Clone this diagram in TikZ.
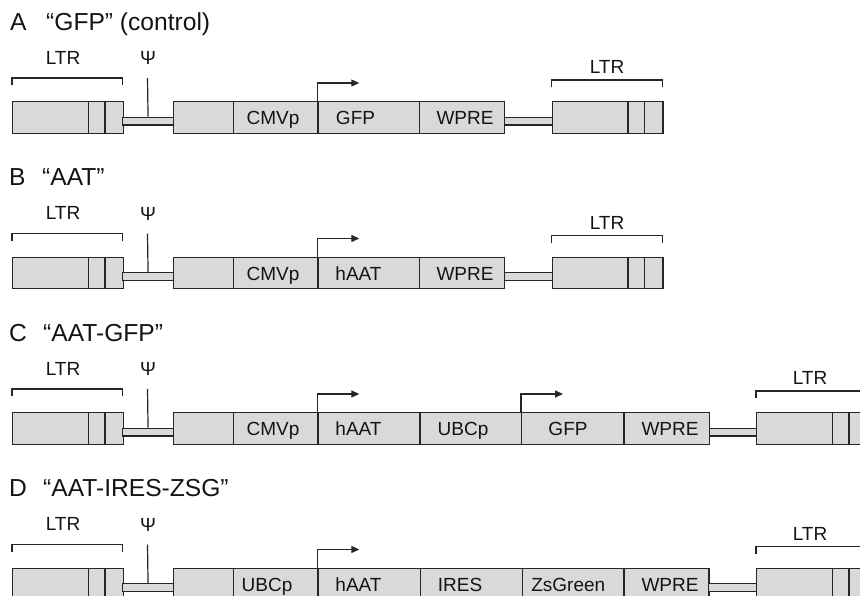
\documentclass[tikz,border=0pt]{standalone}
\usepackage{fontspec}
\setmainfont{Liberation Sans}
\usetikzlibrary{arrows.meta}
\definecolor{boxfill}{HTML}{D9D9D9}
\definecolor{edge}{HTML}{262626}
\definecolor{ink}{HTML}{141414}
\tikzset{
  segbox/.style={draw=edge, fill=boxfill, line width=1.25pt, inner sep=0pt, minimum height=31.5pt, anchor=north west},
  stripbox/.style={draw=edge, fill=boxfill, line width=1.1pt, inner sep=0pt, minimum height=7.8pt, anchor=north west},
  lbl/.style={inner sep=0pt, anchor=base, text=ink, font=\fontsize{19}{22}\selectfont},
  ttl/.style={inner sep=0pt, anchor=base west, text=ink, font=\fontsize{24.6}{28}\selectfont},
  conn/.style={draw=edge, line width=1.2pt},
  prom/.style={conn, -{Triangle[length=8pt,width=7pt]}},
}
% name, x1, x2, label x, text
\newcommand\vecseg[5]{%
  \node[segbox, minimum width={#3-#2}] (#1) at (#2,0) {};
  \node[lbl] (#1t) at (#4,23.5) {#5};}
% name, x1, x2
\newcommand\vecstrip[3]{%
  \node[stripbox, minimum width={#3-#2}] (#1) at (#2,15.6) {};}
% name, x, bracket top, tick bottom, label baseline, label offset
\newcommand\ltrunit[6]{%
  \node[segbox, minimum width=110.6] (#1) at (#2,0) {};
  \draw[conn] ([xshift=76.3pt]#1.north west) -- ([xshift=76.3pt]#1.south west);
  \draw[conn] ([xshift=93pt]#1.north west) -- ([xshift=93pt]#1.south west);
  \coordinate (#1bl) at (#2,#4);
  \coordinate (#1tl) at (#2,#3);
  \coordinate (#1tr) at (#2+110.6,#3);
  \coordinate (#1br) at (#2+110.6,#4);
  \draw[conn, line width=1.1pt] (#1bl) -- (#1tl) -- (#1tr) -- (#1br);
  \node[lbl] (#1lab) at (#2+#6,#5) {LTR};}
% prefix
\newcommand\leftpart[1]{%
  \ltrunit{#1L}{12}{-23}{-16}{-36.8}{51}
  \vecstrip{#1s1}{122}{173}
  \coordinate (#1psitop) at (147.5,-23);
  \draw[conn] (#1s1.north) -- (#1psitop);
  \node[lbl] (#1psi) at (148,-36.5) {Ψ};}
\newcommand\promoter[2]{%
  \coordinate (#2bend) at ([yshift=18pt]#1.north west);
  \coordinate (#2tip) at ([xshift=42pt,yshift=18pt]#1.north west);
  \draw[prom] (#1.north west) -- (#2bend) -- (#2tip);}

\begin{document}
\begin{tikzpicture}[x=1pt, y=-1pt]
\useasboundingbox (0,0) rectangle (860,595);
\clip (0,0) rectangle (860,595);

% ---------------- A
\begin{scope}[yshift=-101pt]
  \node[ttl] (aletter) at (10,-70.7) {A};
  \node[ttl] (atitle) at (46,-70.7) {“GFP” (control)};
  \leftpart{a}
  \vecseg{a0}{173}{232.7}{200}{}
  \vecseg{a1}{232.7}{317.3}{273}{CMVp}
  \vecseg{a2}{317.3}{418.7}{355.5}{GFP}
  \vecseg{a3}{418.7}{504}{465}{WPRE}
  \vecstrip{as2}{504}{551.7}
  \ltrunit{aR}{551.7}{-21}{-14}{-27.2}{55.3}
  \promoter{a2}{ap1}
\end{scope}

% ---------------- B
\begin{scope}[yshift=-256.5pt]
  \node[ttl] (bletter) at (9,-70.7) {B};
  \node[ttl] (btitle) at (42,-70.7) {“AAT”};
  \leftpart{b}
  \vecseg{b0}{173}{232.7}{200}{}
  \vecseg{b1}{232.7}{317.3}{273}{CMVp}
  \vecseg{b2}{317.3}{418.7}{358.5}{hAAT}
  \vecseg{b3}{418.7}{504}{465}{WPRE}
  \vecstrip{bs2}{504}{551.7}
  \ltrunit{bR}{551.7}{-21}{-14}{-27.2}{55.3}
  \promoter{b2}{bp1}
\end{scope}

% ---------------- C
\begin{scope}[yshift=-412pt]
  \node[ttl] (cletter) at (9,-70.7) {C};
  \node[ttl] (ctitle) at (43,-70.7) {“AAT-GFP”};
  \leftpart{c}
  \vecseg{c0}{173}{232.7}{200}{}
  \vecseg{c1}{232.7}{317.3}{273}{CMVp}
  \vecseg{c2}{317.3}{419.3}{358.5}{hAAT}
  \vecseg{c3}{419.3}{521}{463}{UBCp}
  \vecseg{c4}{521}{623.3}{568}{GFP}
  \vecseg{c5}{623.3}{709}{670}{WPRE}
  \vecstrip{cs2}{709}{756}
  \ltrunit{cR}{756}{-21}{-14}{-27.2}{54}
  \promoter{c2}{cp1}
  \promoter{c4}{cp2}
\end{scope}

% ---------------- D
\begin{scope}[yshift=-567.5pt]
  \node[ttl] (dletter) at (9,-70.7) {D};
  \node[ttl] (dtitle) at (43,-70.7) {“AAT-IRES-ZSG”};
  \leftpart{d}
  \vecseg{d0}{173}{232.7}{200}{}
  \vecseg{d1}{232.7}{317.3}{267}{UBCp}
  \vecseg{d2}{317.3}{420}{358.5}{hAAT}
  \vecseg{d3}{420}{521.7}{460}{IRES}
  \vecseg{d4}{521.7}{623.3}{568.3}{ZsGreen}
  \vecseg{d5}{623.3}{708.3}{670}{WPRE}
  \vecstrip{ds2}{708.3}{756}
  \ltrunit{dR}{756}{-21}{-14}{-27.2}{54}
  \promoter{d2}{dp1}
\end{scope}
\end{tikzpicture}
\end{document}
